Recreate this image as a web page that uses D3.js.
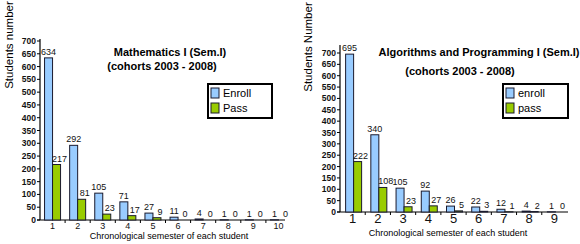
<!DOCTYPE html>
<html>
<head>
<meta charset="utf-8">
<script src="https://cdn.jsdelivr.net/npm/d3@7"></script>
<style>
  body { margin: 0; background: #fff; }
  svg { font-family: 'Liberation Sans', Arial, sans-serif; }
</style>
</head>
<body>
<svg id="chart" width="580" height="244"></svg>
<script>
// data
var mathSemesters = ['1', '2', '3', '4', '5', '6', '7', '8', '9', '10']
var mathEnroll = [634, 292, 105, 71, 27, 11, 4, 1, 1, 1]
var mathPass = [217, 81, 23, 17, 9, 0, 0, 0, 0, 0]

var algoSemesters = ['1', '2', '3', '4', '5', '6', '7', '8', '9']
var algoEnroll = [695, 340, 105, 92, 26, 22, 12, 4, 1]
var algoPass = [222, 108, 23, 27, 5, 3, 1, 2, 0]

var yTicks = d3.range(0, 701, 50)

var colors = { enroll: '#99ccff', pass: '#99cc00', edge: '#1a1a2e' }

var svg = d3.select('#chart')

// draws one grouped bar panel
function drawPanel (p) {
  var g = svg.append('g')
  var x = d3.scaleBand().domain(p.cats).range(p.xRange)
  var y = d3.scaleLinear().domain([0, 700]).range(p.yRange)
  var bw = 8

  // y axis
  g.append('line')
    .attr('x1', p.xRange[0]).attr('x2', p.xRange[0])
    .attr('y1', p.axisTop).attr('y2', p.yRange[0])
    .attr('stroke', '#000').attr('stroke-width', 1.2)
  g.selectAll('.ytick').data(yTicks).enter().append('line')
    .attr('x1', p.xRange[0] - 3).attr('x2', p.xRange[0])
    .attr('y1', function (d) { return y(d) }).attr('y2', function (d) { return y(d) })
    .attr('stroke', '#000')
  g.selectAll('.ylab').data(yTicks).enter().append('text')
    .attr('x', p.xRange[0] - 4)
    .attr('y', function (d) { return y(d) + 3 })
    .attr('text-anchor', 'end')
    .attr('font-size', 8.5).attr('font-weight', 'bold').attr('fill', '#111')
    .text(function (d) { return d })

  // x axis with ticks on band edges
  g.append('line')
    .attr('x1', p.xRange[0] - 3).attr('x2', p.axisRight)
    .attr('y1', p.yRange[0]).attr('y2', p.yRange[0])
    .attr('stroke', '#000').attr('stroke-width', 1.2)
  g.selectAll('.xtick').data(p.cats.slice(1)).enter().append('line')
    .attr('x1', function (d) { return x(d) }).attr('x2', function (d) { return x(d) })
    .attr('y1', p.yRange[0]).attr('y2', p.yRange[0] + 3)
    .attr('stroke', '#000')
  g.selectAll('.xlab').data(p.cats).enter().append('text')
    .attr('x', function (d) { return x(d) + x.bandwidth() / 2 })
    .attr('y', p.xLabY)
    .attr('text-anchor', 'middle')
    .attr('font-size', p.xLabSize).attr('fill', '#111')
    .text(function (d) { return d })

  // bars
  var rows = p.cats.map(function (c, i) { return { c: c, e: p.enroll[i], p: p.pass[i] } })
  var grp = g.selectAll('.grp').data(rows).enter().append('g')
  grp.append('rect')
    .attr('x', function (d) { return x(d.c) + x.bandwidth() / 2 - bw + p.shift })
    .attr('y', function (d) { return y(d.e) })
    .attr('width', bw)
    .attr('height', function (d) { return y(0) - y(d.e) })
    .attr('fill', colors.enroll).attr('stroke', colors.edge).attr('stroke-width', 1)
  grp.append('rect')
    .attr('x', function (d) { return x(d.c) + x.bandwidth() / 2 + p.shift })
    .attr('y', function (d) { return y(d.p) })
    .attr('width', bw)
    .attr('height', function (d) { return y(0) - y(d.p) })
    .attr('fill', colors.pass).attr('stroke', colors.edge).attr('stroke-width', 1)
  grp.append('text')
    .attr('x', function (d) { return x(d.c) + x.bandwidth() / 2 - bw / 2 + p.shift })
    .attr('y', function (d) { return y(d.e) - 3 })
    .attr('text-anchor', 'middle').attr('font-size', 9).attr('fill', '#111')
    .text(function (d) { return d.e })
  grp.append('text')
    .attr('x', function (d) { return x(d.c) + x.bandwidth() / 2 + bw / 2 + 3 + p.shift })
    .attr('y', function (d) { return y(d.p) - 3 })
    .attr('text-anchor', 'middle').attr('font-size', 9).attr('fill', '#111')
    .text(function (d) { return d.p })

  // titles
  g.append('text').attr('x', p.t1[0]).attr('y', p.t1[1])
    .attr('text-anchor', 'middle').attr('font-size', 11).attr('font-weight', 'bold')
    .text(p.title)
  g.append('text').attr('x', p.t2[0]).attr('y', p.t2[1])
    .attr('text-anchor', 'middle').attr('font-size', 11).attr('font-weight', 'bold')
    .text('(cohorts 2003 - 2008)')
  g.append('text')
    .attr('transform', 'translate(' + p.yTitle[0] + ',' + p.yTitle[1] + ')rotate(-90)')
    .attr('text-anchor', 'middle').attr('font-size', 11.5)
    .text(p.yLabel)
  g.append('text').attr('x', p.xTitle[0]).attr('y', p.xTitle[1])
    .attr('text-anchor', 'middle').attr('font-size', 9)
    .text('Chronological semester of each student')

  // legend
  var lg = g.append('g').attr('transform', 'translate(' + p.legend[0] + ',' + p.legend[1] + ')')
  lg.append('rect').attr('width', p.legend[2]).attr('height', 34)
    .attr('fill', '#fff').attr('stroke', '#000').attr('stroke-width', 2)
  p.legendNames.forEach(function (n, i) {
    lg.append('rect').attr('x', 3).attr('y', 4 + i * 15).attr('width', 8).attr('height', 10)
      .attr('fill', i === 0 ? colors.enroll : colors.pass).attr('stroke', colors.edge)
    lg.append('text').attr('x', 15).attr('y', 13 + i * 15)
      .attr('font-size', 11).text(n)
  })
}

drawPanel({
  cats: mathSemesters, enroll: mathEnroll, pass: mathPass,
  xRange: [40, 291], yRange: [220, 41], axisTop: 39, axisRight: 285,
  xLabY: 229, xLabSize: 9, shift: 0,
  title: 'Mathematics I (Sem.I)', t1: [170, 56], t2: [162, 70],
  yLabel: 'Students number', yTitle: [13, 45], xTitle: [169, 239],
  legend: [208, 84, 64], legendNames: ['Enroll', 'Pass']
})

drawPanel({
  cats: algoSemesters, enroll: algoEnroll, pass: algoPass,
  xRange: [340, 567], yRange: [212, 53], axisTop: 45, axisRight: 568,
  xLabY: 223, xLabSize: 13, shift: 1,
  title: 'Algorithms and Programming I (Sem.I)', t1: [479, 56], t2: [460, 75],
  yLabel: 'Students Number', yTitle: [312, 47], xTitle: [448, 236],
  legend: [503, 84, 65], legendNames: ['enroll', 'pass']
})
</script>
</body>
</html>
